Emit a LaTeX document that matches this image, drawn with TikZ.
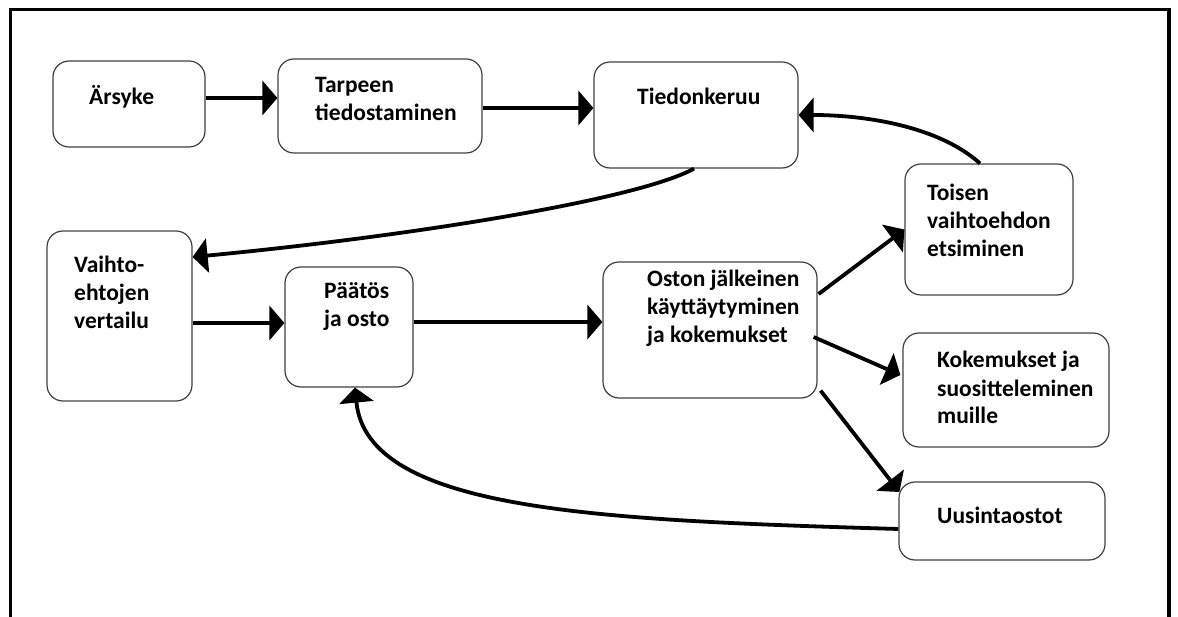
\documentclass[tikz,border=0pt]{standalone}
\usepackage{fontspec}
\setmainfont{Carlito}
\usetikzlibrary{arrows.meta}
% flush-left stack of lines whose baseline is the last line
\newcommand{\linestack}[1]{\begin{tabular}[b]{@{}l@{}}#1\end{tabular}}
\tikzset{
  stage/.style={draw=black!75, line width=1.2pt, rounded corners=16pt, inner sep=0pt},
  label text/.style={anchor=base west, inner sep=0pt,
    font=\fontsize{23.5pt}{28pt}\selectfont\bfseries},
  conn/.style={line width=3.8pt, -{Triangle[length=15pt,width=34pt]}},
  frame line/.style={line width=3.5pt}
}
\begin{document}
\begin{tikzpicture}[x=1pt, y=-1pt]
\useasboundingbox (0,0) rectangle (1178,617);
% outer frame, open at the bottom
\draw[frame line] (10.5,617) -- (10.5,9.5) -- (1169,9.5) -- (1169,617);

% stages
\node[stage, minimum width=152pt, minimum height=86pt]  (ars)    at (129,104)   {};
\node[stage, minimum width=204pt, minimum height=94pt]  (tarp)   at (380,106)   {};
\node[stage, minimum width=204pt, minimum height=106pt] (tied)   at (696,115)   {};
\node[stage, minimum width=168pt, minimum height=131pt] (toisen) at (989,229.5) {};
\node[stage, minimum width=206pt, minimum height=114pt] (koke)   at (1006,390)  {};
\node[stage, minimum width=206pt, minimum height=78pt]  (uusi)   at (1002,521)  {};
\node[stage, minimum width=145pt, minimum height=170pt] (vaihto) at (119.5,316) {};
\node[stage, minimum width=128pt, minimum height=120pt] (paatos) at (349,327)   {};
\node[stage, minimum width=214pt, minimum height=136pt] (oston)  at (710,330)   {};

% stage texts (positioned at the baseline of their last line)
\node[label text] (t-ars)    at (89,105)  {Ärsyke};
\node[label text] (t-tarp)   at (315,121) {\linestack{Tarpeen\\tiedostaminen}};
\node[label text] (t-tied)   at (637,105) {Tiedonkeruu};
\node[label text] (t-toisen) at (927,257) {\linestack{Toisen\\vaihtoehdon\\etsiminen}};
\node[label text] (t-koke)   at (937,424) {\linestack{Kokemukset ja\\suositteleminen\\muille}};
\node[label text] (t-uusi)   at (937,523) {Uusintaostot};
\node[label text] (t-vaihto) at (74,329)  {\linestack{Vaihto-\\ehtojen\\vertailu}};
\node[label text] (t-paatos) at (324,327) {\linestack{Päätös\\ja osto}};
\node[label text] (t-oston)  at (647,343) {\linestack{Oston jälkeinen\\käyttäytyminen\\ja kokemukset}};

% connectors
\draw[conn] ([yshift=6pt]ars.east) -- ([yshift=8pt]tarp.west);
\draw[conn] ([yshift=-2pt]tarp.east) -- ([yshift=7pt]tied.west);
\draw[conn] ([xshift=-9pt]toisen.north) .. controls +(-40,-36) and +(70,0) .. (tied.east);
\draw[conn] ([xshift=-2pt]tied.south) .. controls +(-54,30) and +(229,-22) .. ([yshift=59pt]vaihto.east);
\draw[conn] ([yshift=-7pt]vaihto.east) -- ([yshift=4pt]paatos.west);
\draw[conn] ([yshift=5pt]paatos.east) -- ([yshift=8pt]oston.west);
\draw[conn] ([xshift=1pt,yshift=36pt]oston.east) -- (toisen.west);
\draw[conn] ([xshift=-4pt,yshift=-7pt]oston.east) -- ([xshift=-2pt,yshift=15pt]koke.west);
\draw[conn] ([xshift=3pt,yshift=8pt]oston.south east) -- ([xshift=1pt,yshift=29pt]uusi.west);
\draw[conn] ([yshift=-8pt]uusi.west) .. controls +(-299,-9) and +(12,124) .. ([xshift=6pt]paatos.south);
\end{tikzpicture}
\end{document}
